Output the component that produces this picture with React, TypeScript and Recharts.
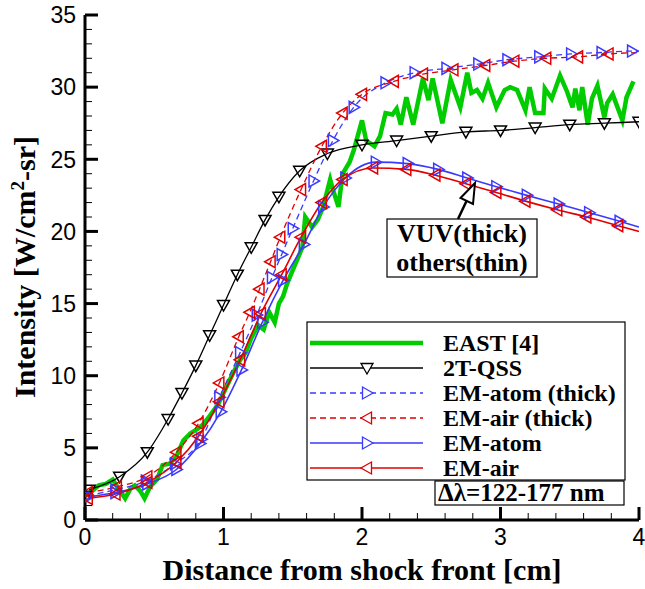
import React from 'react';
import { LineChart, Line, XAxis, YAxis } from 'recharts';

// tick positions (major labels on integers / multiples of 5)
const xTicks = [0, 0.2, 0.4, 0.6, 0.8, 1, 1.2, 1.4, 1.6, 1.8, 2, 2.2, 2.4, 2.6, 2.8, 3, 3.2, 3.4, 3.6, 3.8, 4];
const yTicks = [0, 1, 2, 3, 4, 5, 6, 7, 8, 9, 10, 11, 12, 13, 14, 15, 16, 17, 18, 19, 20, 21, 22, 23, 24, 25, 26, 27, 28, 29, 30, 31, 32, 33, 34, 35];

// EAST [4] measurement
const eastX = [0, 0.05, 0.1, 0.15, 0.2, 0.24, 0.29, 0.33, 0.36, 0.4, 0.43, 0.47, 0.52, 0.56, 0.61, 0.66, 0.71, 0.76, 0.81, 0.85, 0.9, 0.96, 1.02, 1.07, 1.12, 1.16, 1.2, 1.25, 1.29, 1.33, 1.37, 1.4, 1.43, 1.46, 1.49, 1.53, 1.57, 1.59, 1.64, 1.68, 1.72, 1.77, 1.79, 1.83, 1.86, 1.91, 1.94, 2.0, 2.03, 2.09, 2.13, 2.17, 2.22, 2.25, 2.28, 2.32, 2.37, 2.44, 2.48, 2.51, 2.58, 2.64, 2.71, 2.76, 2.79, 2.83, 2.87, 2.91, 2.97, 3.03, 3.07, 3.12, 3.18, 3.21, 3.25, 3.31, 3.32, 3.37, 3.43, 3.48, 3.52, 3.54, 3.57, 3.59, 3.63, 3.66, 3.7, 3.75, 3.77, 3.81, 3.88, 3.91, 3.96];
const eastY = [1.7, 2.0, 2.4, 2.5, 2.8, 2.2, 1.5, 2.2, 2.4, 2.0, 1.5, 2.3, 2.8, 3.8, 3.9, 4.4, 5.5, 6.0, 6.3, 6.6, 7.2, 8.0, 9.2, 10.2, 11.1, 11.6, 12.6, 13.5, 13.2, 14.4, 13.7, 15.0, 15.5, 16.4, 17.1, 18.0, 18.9, 21.0, 20.3, 20.8, 21.7, 23.6, 22.9, 21.7, 24.0, 24.8, 25.6, 27.7, 26.3, 25.9, 26.6, 28.2, 28.1, 28.5, 27.4, 29.3, 27.4, 30.6, 29.1, 30.6, 27.5, 30.5, 28.6, 31.0, 29.6, 29.8, 29.2, 30.3, 28.6, 29.8, 30.0, 29.8, 28.4, 30.0, 28.2, 28.2, 29.9, 29.2, 30.8, 29.7, 28.6, 29.9, 28.4, 30.0, 27.4, 29.2, 30.1, 27.9, 28.9, 29.5, 27.7, 29.3, 30.4];

// 2T-QSS
const qssX = [0.03, 0.25, 0.45, 0.6, 0.7, 0.8, 0.9, 1.0, 1.1, 1.2, 1.3, 1.4, 1.55, 1.75, 2.0, 2.25, 2.5, 2.75, 3.0, 3.25, 3.5, 3.75, 4.0];
const qssY = [2.1, 3.0, 4.7, 7.0, 8.8, 10.7, 12.8, 14.9, 17.0, 18.9, 20.8, 22.4, 24.2, 25.4, 26.0, 26.3, 26.6, 26.9, 27.0, 27.2, 27.4, 27.5, 27.6];

// EM-atom (thick)
const atomThickX = [0.02, 0.22, 0.44, 0.65, 0.84, 0.97, 1.12, 1.24, 1.35, 1.42, 1.5, 1.65, 1.79, 1.94, 2.17, 2.38, 2.61, 2.84, 3.05, 3.28, 3.51, 3.73, 3.95, 4.0];
const atomThickY = [1.7, 2.1, 2.7, 3.9, 5.6, 8.5, 11.6, 14.2, 16.8, 18.4, 20.2, 23.5, 26.3, 28.6, 30.3, 31.0, 31.3, 31.6, 31.9, 32.1, 32.3, 32.4, 32.5, 32.5];

// EM-air (thick)
const airThickX = [0.02, 0.23, 0.45, 0.66, 0.82, 0.97, 1.11, 1.19, 1.26, 1.34, 1.41, 1.56, 1.71, 1.86, 2.0, 2.23, 2.44, 2.66, 2.89, 3.1, 3.33, 3.56, 3.78, 4.0];
const airThickY = [1.9, 2.3, 3.0, 4.7, 6.7, 9.5, 12.7, 14.4, 16.0, 17.9, 19.6, 22.9, 25.9, 28.2, 29.5, 30.4, 30.9, 31.2, 31.5, 31.8, 32.0, 32.1, 32.3, 32.4];

// EM-atom
const atomX = [0.02, 0.22, 0.45, 0.66, 0.83, 0.98, 1.13, 1.28, 1.43, 1.58, 1.72, 1.88, 2.1, 2.33, 2.55, 2.76, 2.97, 3.19, 3.42, 3.64, 3.86, 4.0];
const atomY = [1.6, 1.9, 2.5, 3.5, 5.3, 7.5, 10.4, 13.7, 16.6, 19.1, 21.7, 23.7, 24.8, 24.7, 24.3, 23.7, 23.1, 22.5, 21.9, 21.3, 20.7, 20.3];

// EM-air
const airX = [0.02, 0.22, 0.45, 0.66, 0.82, 0.97, 1.12, 1.27, 1.42, 1.56, 1.71, 1.86, 2.08, 2.32, 2.53, 2.75, 2.97, 3.18, 3.41, 3.62, 3.85, 4.0];
const airY = [1.5, 1.8, 2.6, 4.0, 5.8, 8.2, 11.1, 14.3, 17.0, 19.6, 22.0, 23.6, 24.4, 24.3, 23.9, 23.3, 22.7, 22.1, 21.5, 21.0, 20.4, 20.0];

const GREEN = '#00cc00';
const BLUE = '#3a3aff';
const RED = '#e00000';
const SANS = 'Liberation Sans, Arial, Helvetica, sans-serif';
const SERIF = 'Liberation Serif, Times New Roman, serif';

const zip = (xs: number[], ys: number[]) => xs.map((x, i) => ({ x, y: ys[i] }));

type Shape = 'down' | 'right' | 'left';

const triPath = (shape: Shape, cx: number, cy: number) => {
  if (shape === 'down') return `M${cx - 6},${cy - 4.5}L${cx + 6},${cy - 4.5}L${cx},${cy + 6}Z`;
  if (shape === 'right') return `M${cx - 4.5},${cy - 6}L${cx - 4.5},${cy + 6}L${cx + 6},${cy}Z`;
  return `M${cx + 4.5},${cy - 6}L${cx + 4.5},${cy + 6}L${cx - 6},${cy}Z`;
};

const marker = (shape: Shape, color: string, skipLast: boolean, n: number) => (props: any) => {
  const { cx, cy, index } = props;
  if (cx == null || cy == null || (skipLast && index === n - 1)) return <g key={`m${index}`} />;
  return <path key={`m${index}`} d={triPath(shape, cx, cy)} fill="none" stroke={color} strokeWidth={1.5} />;
};

const isMajorX = (v: number) => Math.abs(v - Math.round(v)) < 1e-6;
const isMajorY = (v: number) => v % 5 === 0;

const BottomTick = (props: any) => {
  const { x, y, payload } = props;
  const major = isMajorX(payload.value);
  return (
    <g>
      <line x1={x} x2={x} y1={y} y2={y - (major ? 13 : 7)} stroke="#000" strokeWidth={major ? 3 : 1} />
      {major && (
        <text x={x} y={y + 8} dy="0.72em" textAnchor="middle" fontSize={23} fontFamily={SANS} fill="#000">
          {Math.round(payload.value)}
        </text>
      )}
    </g>
  );
};

const TopTick = (props: any) => {
  const { x, y, payload } = props;
  const major = isMajorX(payload.value);
  return <line x1={x} x2={x} y1={y} y2={y + (major ? 13 : 7)} stroke="#000" strokeWidth={major ? 3 : 1} />;
};

const LeftTick = (props: any) => {
  const { x, y, payload } = props;
  const major = isMajorY(payload.value);
  return (
    <g>
      <line x1={x} x2={x + (major ? 13 : 7)} y1={y} y2={y} stroke="#000" strokeWidth={major ? 3 : 1} />
      {major && (
        <text x={x - 9} y={y} dy="0.36em" textAnchor="end" fontSize={23} fontFamily={SANS} fill="#000">
          {payload.value}
        </text>
      )}
    </g>
  );
};

const RightTick = (props: any) => {
  const { x, y, payload } = props;
  const major = isMajorY(payload.value);
  return <line x1={x} x2={x - (major ? 13 : 7)} y1={y} y2={y} stroke="#000" strokeWidth={major ? 3 : 1} />;
};

const legendRows = [
  { name: 'EAST [4]', color: GREEN, width: 4.5, dash: undefined, shape: null },
  { name: '2T-QSS', color: '#000', width: 1.3, dash: undefined, shape: 'down' },
  { name: 'EM-atom (thick)', color: BLUE, width: 1.3, dash: '6 4', shape: 'right' },
  { name: 'EM-air (thick)', color: RED, width: 1.3, dash: '6 4', shape: 'left' },
  { name: 'EM-atom', color: BLUE, width: 1.6, dash: undefined, shape: 'right' },
  { name: 'EM-air', color: RED, width: 1.6, dash: undefined, shape: 'left' },
];

const Overlay = () => (
  <svg width={645} height={589} style={{ position: 'absolute', left: 0, top: 0, pointerEvents: 'none' }}>
    {/* axis titles */}
    <text x={362} y={580} textAnchor="middle" fontSize={30} fontWeight="bold" fontFamily={SERIF}>
      Distance from shock front [cm]
    </text>
    <text transform="translate(35,267) rotate(-90)" textAnchor="middle" fontSize={30} fontWeight="bold" fontFamily={SERIF}>
      Intensity [W/cm<tspan dy={-11} fontSize={19}>2</tspan>
      <tspan dy={11}>-sr]</tspan>
    </text>

    {/* legend */}
    <rect x={307} y={322} width={318} height={158} fill="#fff" stroke="#000" strokeWidth={1.2} />
    {legendRows.map((r, i) => {
      const cy = 343 + i * 25;
      return (
        <g key={r.name}>
          <line x1={310} x2={423} y1={cy} y2={cy} stroke={r.color} strokeWidth={r.width} strokeDasharray={r.dash} />
          {r.shape && <path d={triPath(r.shape as Shape, 367, cy)} fill="#fff" stroke={r.color} strokeWidth={1.3} />}
          <text x={443} y={cy + 8} fontSize={24} fontWeight="bold" fontFamily={SERIF}>
            {r.name}
          </text>
        </g>
      );
    })}
    <rect x={435} y={481} width={189} height={24} fill="#fff" stroke="#000" strokeWidth={1.2} />
    <text x={438} y={501} fontSize={25} fontWeight="bold" fontFamily={SERIF}>
      Δλ=122-177 nm
    </text>

    {/* annotation */}
    <rect x={387} y={219} width={150} height={58} fill="#fff" stroke="#000" strokeWidth={1.2} />
    <text x={462} y={242} textAnchor="middle" fontSize={26} fontWeight="bold" fontFamily={SERIF}>
      VUV(thick)
    </text>
    <text x={462} y={271} textAnchor="middle" fontSize={26} fontWeight="bold" fontFamily={SERIF}>
      others(thin)
    </text>
    <line x1={458} y1={219} x2={467} y2={200} stroke="#000" strokeWidth={2.5} />
    <path d="M475,183L460.5,198L473,204Z" fill="#fff" stroke="#000" strokeWidth={2} />
  </svg>
);

export default function App() {
  return (
    <div style={{ position: 'absolute', left: 0, top: 0, width: 645, height: 589, background: '#fff' }}>
      <LineChart width={645} height={589} margin={{ top: 15, right: 6, bottom: 0, left: 0 }}>
        <XAxis
          dataKey="x"
          type="number"
          domain={[0, 4]}
          ticks={xTicks}
          interval={0}
          allowDataOverflow
          height={69}
          tickSize={0}
          tickMargin={0}
          tickLine={false}
          axisLine={{ stroke: '#000', strokeWidth: 3 }}
          tick={BottomTick}
        />
        <XAxis
          xAxisId="top"
          orientation="top"
          dataKey="x"
          type="number"
          domain={[0, 4]}
          ticks={xTicks}
          interval={0}
          allowDataOverflow
          height={0}
          tickSize={0}
          tickMargin={0}
          tickLine={false}
          axisLine={{ stroke: '#000', strokeWidth: 3 }}
          tick={TopTick}
        />
        <YAxis
          type="number"
          domain={[0, 35]}
          ticks={yTicks}
          interval={0}
          allowDataOverflow
          width={85}
          tickSize={0}
          tickMargin={0}
          tickLine={false}
          axisLine={{ stroke: '#000', strokeWidth: 3 }}
          tick={LeftTick}
        />
        <YAxis
          yAxisId="right"
          orientation="right"
          type="number"
          domain={[0, 35]}
          ticks={yTicks}
          interval={0}
          allowDataOverflow
          width={0}
          tickSize={0}
          tickMargin={0}
          tickLine={false}
          axisLine={{ stroke: '#000', strokeWidth: 3 }}
          tick={RightTick}
        />
        <Line
          data={zip(eastX, eastY)}
          dataKey="y"
          type="linear"
          stroke={GREEN}
          strokeWidth={4.5}
          dot={false}
          isAnimationActive={false}
        />
        <Line
          data={zip(qssX, qssY)}
          dataKey="y"
          type="monotone"
          stroke="#000"
          strokeWidth={1.3}
          dot={marker('down', '#000', false, qssX.length)}
          isAnimationActive={false}
        />
        <Line
          data={zip(atomThickX, atomThickY)}
          dataKey="y"
          type="monotone"
          stroke={BLUE}
          strokeWidth={1.3}
          strokeDasharray="6 4"
          dot={marker('right', BLUE, true, atomThickX.length)}
          isAnimationActive={false}
        />
        <Line
          data={zip(airThickX, airThickY)}
          dataKey="y"
          type="monotone"
          stroke={RED}
          strokeWidth={1.3}
          strokeDasharray="6 4"
          dot={marker('left', RED, true, airThickX.length)}
          isAnimationActive={false}
        />
        <Line
          data={zip(atomX, atomY)}
          dataKey="y"
          type="monotone"
          stroke={BLUE}
          strokeWidth={1.6}
          dot={marker('right', BLUE, true, atomX.length)}
          isAnimationActive={false}
        />
        <Line
          data={zip(airX, airY)}
          dataKey="y"
          type="monotone"
          stroke={RED}
          strokeWidth={1.6}
          dot={marker('left', RED, true, airX.length)}
          isAnimationActive={false}
        />
      </LineChart>
      <Overlay />
    </div>
  );
}
